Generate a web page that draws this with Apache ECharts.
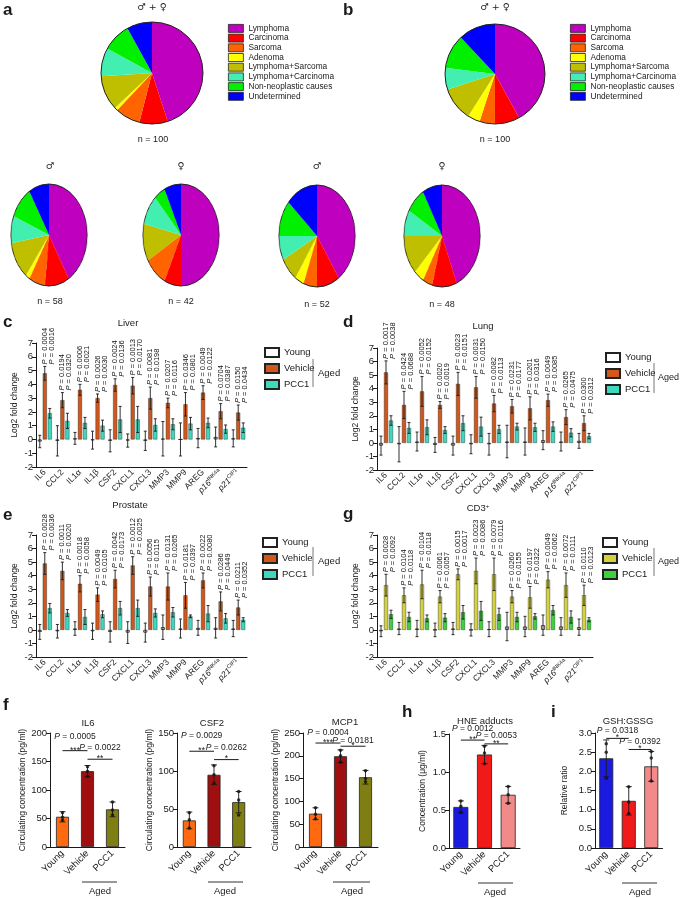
<!DOCTYPE html>
<html>
<head>
<meta charset="utf-8">
<script src="https://cdn.jsdelivr.net/npm/echarts@6.0.0/dist/echarts.min.js"></script>
<style>
html,body{margin:0;padding:0;background:#fff;}
#main{position:absolute;left:0;top:0;width:681px;height:898px;}
.sp{position:absolute;width:104px;height:104px;transform:scaleX(0.75);transform-origin:50% 50%;}
</style>
</head>
<body>
<div id="main"></div>
<div id="pieAM" class="sp" style="left:-3px;top:183px"></div>
<div id="pieAF" class="sp" style="left:129px;top:183px"></div>
<div id="pieBM" class="sp" style="left:265px;top:184px"></div>
<div id="pieBF" class="sp" style="left:390px;top:184px"></div>
<script>
// ---- tumour spectrum (a, b)
var tumourTypes = ['Lymphoma','Carcinoma','Sarcoma','Adenoma','Lymphoma+Sarcoma','Lymphoma+Carcinoma','Non-neoplastic causes','Undetermined'];
var tumourColors = ['#BF00BF','#FF0000','#FF6400','#FFFF00','#BFBF00','#43EFB0','#00F000','#0000FF'];
var countsA = [45,9,8,1,11,9,9,8];
var countsAMale = [24,6,4,1,7,5,6,5];
var countsAFemale = [21,3,4,0,5,4,2,3];
var countsB = [42,8,5,4,11,7,11,12];
var countsBMale = [21,5,3,2,4,4,6,7];
var countsBFemale = [21,5,2,2,6,4,4,4];

// ---- SASP genes (c, d, e, g)
var genes = ['IL6','CCL2','IL1α','IL1β','CSF2','CXCL1','CXCL3','MMP3','MMP9','AREG','p16INK4a','p21CIP1'];

var liverYoungMean = [-0.15,-0.1,0.08,-0.05,-0.1,-0.08,-0.1,0.05,0,0.1,0.18,0.08];
var liverYoungSd   = [0.45,1.1,0.43,0.65,0.8,0.48,0.7,1.25,1.2,0.7,0.72,0.62];
var liverVehMean   = [4.8,2.85,3.6,3.0,3.95,3.9,3.0,2.65,2.55,3.4,2.05,1.95];
var liverVehSd     = [0.5,0.55,0.4,0.3,0.45,0.6,0.8,0.35,0.85,0.5,0.55,0.55];
var liverPccMean   = [1.9,1.35,1.2,1.0,1.45,1.45,1.05,1.1,1.15,1.2,0.75,0.85];
var liverPccSd     = [0.35,0.55,0.4,0.4,0.95,0.95,0.45,0.4,0.45,0.35,0.3,0.35];
var liverP = ['0.0004','0.0016','0.0194','0.0320','0.0006','0.0021','0.0026','0.0030','0.0024','0.0136','0.0013','0.0170',
              '0.0081','0.0198','0.0207','0.0116','0.0346','0.0801','0.0049','0.0122','0.0704','0.0387','0.0150','0.0434'];

var lungYoungMean = [-0.2,-0.1,0.1,-0.15,-0.2,-0.1,-0.1,0.1,0.1,0.2,0.1,0.15];
var lungYoungSd   = [0.7,1.3,0.7,0.55,0.7,0.7,0.8,1.2,1.0,0.7,0.7,0.55];
var lungVehMean   = [5.2,2.8,3.8,2.8,4.35,4.1,2.9,2.7,2.55,3.15,1.9,1.45];
var lungVehSd     = [0.85,1.0,1.1,0.25,0.85,0.8,0.6,0.5,0.85,0.45,0.55,0.55];
var lungPccMean   = [1.65,1.1,1.15,0.95,1.45,1.2,1.0,1.2,1.15,1.2,0.75,0.5];
var lungPccSd     = [0.35,0.4,0.55,0.25,0.55,0.7,0.3,0.25,0.3,0.35,0.3,0.2];
var lungP = ['0.0017','0.0038','0.0424','0.0688','0.0052','0.0152','0.0020','0.0019','0.0023','0.0151','0.0031','0.0150',
             '0.0082','0.0113','0.0231','0.0177','0.0201','0.0316','0.0049','0.0085','0.0265','0.0475','0.0300','0.0312'];

var prostateYoungMean = [-0.15,-0.1,0.1,-0.1,-0.15,-0.2,-0.2,0.2,0.1,0.15,0.15,0.1];
var prostateYoungSd   = [0.55,0.5,0.5,0.6,0.75,0.8,0.7,0.9,0.7,0.55,0.75,0.6];
var prostateVehMean   = [4.9,4.35,3.4,2.6,3.75,4.75,3.2,3.2,2.55,3.65,2.1,1.65];
var prostateVehSd     = [0.8,0.65,0.6,0.5,0.65,0.65,0.7,1.0,0.95,0.55,0.7,0.55];
var prostatePccMean   = [1.6,1.25,0.95,1.15,1.6,1.6,1.25,1.3,1.0,1.2,0.85,0.75];
var prostatePccSd     = [0.35,0.25,0.55,0.25,0.5,0.6,0.3,0.35,0.1,0.6,0.35,0.15];
var prostateP = ['0.0028','0.0036','0.0011','0.0020','0.0018','0.0058','0.0049','0.0105','0.0042','0.0173','0.0012','0.0025',
                 '0.0056','0.0115','0.0131','0.0265','0.0181','0.0397','0.0022','0.0080','0.0286','0.0449','0.0211','0.0352'];

var cd3YoungMean = [-0.1,0.1,0.1,0,0.1,0,0.05,0.25,0.25,0.35,0.25,0.2];
var cd3YoungSd   = [0.4,0.45,0.6,0.5,0.45,0.45,0.55,1.05,0.75,0.75,0.65,0.6];
var cd3VehMean   = [3.3,2.55,3.35,2.45,4.1,4.35,4.1,2.45,2.4,3.7,3.3,2.55];
var cd3VehSd     = [0.8,0.55,1.05,0.45,0.4,0.95,1.2,0.45,0.8,0.6,0.9,0.75];
var cd3PccMean   = [1.15,0.95,0.85,0.9,1.3,1.4,1.15,0.95,1.0,1.45,0.95,0.75];
var cd3PccSd     = [0.3,0.35,0.25,0.3,0.5,0.7,0.45,0.35,0.2,0.35,0.45,0.15];
var cd3P = ['0.0028','0.0092','0.0104','0.0118','0.0104','0.0118','0.0061','0.0057','0.0015','0.0017','0.0023','0.0086',
            '0.0079','0.0116','0.0260','0.0155','0.0197','0.0322','0.0049','0.0062','0.0072','0.0111','0.0110','0.0123'];

// ---- circulating factors (f) and redox (h, i)
var groups = ['Young','Vehicle','PCC1'];
var il6Mean = [53,133,66],  il6Sd = [9,10,13];
var il6Dots = [[60,52,47],[141,133,124],[79,65,56]];
var il6SigLines = [[0,1,169,194],[1,2,154,175]], il6Stars = ['***','**'], il6P = ['0.0005','0.0022'];
var csf2Mean = [35,95,59],  csf2Sd = [11,13,14];
var csf2Dots = [[45,36,25],[107,95,84],[73,62,42]];
var csf2SigLines = [[0,1,126,146],[1,2,115,131]], csf2Stars = ['**','*'], csf2P = ['0.0029','0.0262'];
var mcp1Mean = [73,199,153], mcp1Sd = [13,14,15];
var mcp1Dots = [[86,72,62],[212,200,186],[167,150,143]];
var mcp1SigLines = [[0,1,228,250],[1,2,221,233]], mcp1Stars = ['***','*'], mcp1P = ['0.0004','0.0181'];
var hneMean = [0.54,1.23,0.70], hneSd = [0.08,0.12,0.11];
var hneDots = [[0.62,0.55,0.47],[1.34,1.25,1.11],[0.81,0.70,0.59]];
var hneSigLines = [[0,1,1.42,1.57],[1,2,1.37,1.48]], hneStars = ['**','**'], hneP = ['0.0012','0.0053'];
var gshMean = [2.34,1.23,2.13], gshSd = [0.48,0.37,0.39];
var gshDots = [[2.72,2.5,1.82],[1.6,1.2,0.9],[2.52,2.35,1.75]];
var gshSigLines = [[0,1,2.86,3.07],[1,2,2.57,2.78]], gshStars = ['*','*'], gshP = ['0.0318','0.0392'];

var FONT = '"Liberation Sans",Arial,sans-serif';
var SYM = '"DejaVu Sans",sans-serif';
var INK = '#1a1a1a';
var sasColors = ['#ffffff','#D0581C','#3FD8BC'];
var cd3Colors = ['#ffffff','#D4D23E','#3CD23C'];
var circColors = ['#FF6A10','#A00F0F','#7E7E12'];
var redoxColors = ['#1A1AE0','#F01A1A','#F28A8A'];

function pieSeries(counts, center, radius){
	return [{
		type:'pie', center:center, radius:radius, startAngle:90, clockwise:true, silent:true,
		label:{show:false}, labelLine:{show:false},
		data: tumourTypes.map(function(t,i){ return {name:t, value:counts[i], itemStyle:{color:tumourColors[i], borderWidth:0}}; })
	},{
		type:'pie', center:center, radius:radius, silent:true, label:{show:false}, labelLine:{show:false},
		data:[{name:'outline', value:1, itemStyle:{color:'rgba(0,0,0,0)', borderColor:'#222', borderWidth:1}}]
	}];
}

function geneLabel(v){
	if(v === 'p16INK4a') return '{it|p16}{sup|INK4a}';
	if(v === 'p21CIP1') return '{it|p21}{sup|CIP1}';
	return v;
}
var geneRich = {
	it:{fontStyle:'italic', fontSize:8.5, fontFamily:FONT, color:INK, lineHeight:11},
	sup:{fontSize:5.5, fontFamily:FONT, color:INK, verticalAlign:'top', lineHeight:6}
};

function errorBars(offsetOf, capW){
	return function(params, api){
		var i = api.value(0), m = api.value(1), s = api.value(2);
		var hi = api.coord([i, m + s]), lo = api.coord([i, m - s]);
		var x = hi[0] + offsetOf(api.value(3));
		var ls = {stroke:INK, lineWidth:0.9};
		return {type:'group', children:[
			{type:'line', shape:{x1:x, y1:hi[1], x2:x, y2:lo[1]}, style:ls},
			{type:'line', shape:{x1:x-capW, y1:hi[1], x2:x+capW, y2:hi[1]}, style:ls},
			{type:'line', shape:{x1:x-capW, y1:lo[1], x2:x+capW, y2:lo[1]}, style:ls}
		]};
	};
}

function pLabels(pv, dx1, dx2){
	return function(params, api){
		var i = api.value(0);
		var pt = api.coord([i, api.value(1)]);
		var mk = function(x, s){
			return {type:'text', x:x, y:pt[1] - 2, rotation:Math.PI/2,
				style:{text:'{i|P} = ' + s, fontSize:7.5, fontFamily:FONT, fill:'#111', align:'left', verticalAlign:'middle',
					rich:{i:{fontStyle:'italic', fontSize:7.5, fontFamily:FONT, fill:'#111'}}}};
		};
		return {type:'group', children:[mk(pt[0] + dx1, pv[2*i]), mk(pt[0] + dx2, pv[2*i+1])]};
	};
}

function geneSeries(gi, names, colors, yM, yS, vM, vS, pM, pS, pv){
	var means = [yM, vM, pM], sds = [yS, vS, pS];
	var out = [], k, i;
	for(k = 0; k < 3; k++){
		out.push({type:'bar', name:names[k], xAxisIndex:gi, yAxisIndex:gi, data:means[k], barWidth:4, barGap:'25%', silent:true,
			itemStyle:{color:colors[k], borderColor:'#222', borderWidth:k === 0 ? 0.8 : 0.4}});
	}
	var errData = [];
	for(k = 0; k < 3; k++) for(i = 0; i < genes.length; i++) errData.push([i, means[k][i], sds[k][i], k]);
	out.push({type:'custom', xAxisIndex:gi, yAxisIndex:gi, data:errData, clip:false, z:3, silent:true,
		renderItem:errorBars(function(k){ return (k - 1) * 5; }, 1.5)});
	out.push({type:'custom', xAxisIndex:gi, yAxisIndex:gi, clip:false, z:4, silent:true,
		data:vM.map(function(v, i){ return [i, v + vS[i]]; }), renderItem:pLabels(pv, 0, 7)});
	return out;
}

function sigMarks(stars, pv){
	return function(params, api){
		var k = params.dataIndex;
		var a = api.coord([api.value(0), api.value(2)]);
		var b = api.coord([api.value(1), api.value(2)]);
		var ty = api.coord([api.value(0), api.value(3)])[1];
		var mx = (a[0] + b[0]) / 2;
		return {type:'group', children:[
			{type:'line', shape:{x1:a[0], y1:a[1], x2:b[0], y2:a[1]}, style:{stroke:INK, lineWidth:1}},
			{type:'text', x:mx, y:a[1] + 4, style:{text:stars[k], fontSize:8.5, fontFamily:FONT, fill:INK, align:'center', verticalAlign:'bottom'}},
			{type:'text', x:mx, y:ty, style:{text:'{i|P} = ' + pv[k], fontSize:8.5, fontFamily:FONT, fill:INK, align:'center', verticalAlign:'middle',
				rich:{i:{fontStyle:'italic', fontSize:8.5, fontFamily:FONT, fill:INK}}}}
		]};
	};
}

function assaySeries(gi, mean, sd, dots, sigLines, stars, pv, colors, barW){
	var dotData = [];
	dots.forEach(function(arr, i){ arr.forEach(function(v){ dotData.push([i, v]); }); });
	return [
		{type:'bar', name:'assay' + gi, xAxisIndex:gi, yAxisIndex:gi, barWidth:barW, silent:true,
			itemStyle:{borderColor:'#222', borderWidth:0.8},
			data:mean.map(function(v, i){ return {value:v, itemStyle:{color:colors[i]}}; })},
		{type:'custom', xAxisIndex:gi, yAxisIndex:gi, clip:false, z:3, silent:true,
			data:mean.map(function(v, i){ return [i, v, sd[i], 1]; }), renderItem:errorBars(function(){ return 0; }, 3)},
		{type:'scatter', xAxisIndex:gi, yAxisIndex:gi, data:dotData, symbolSize:3.5, z:4, silent:true, itemStyle:{color:'#111'}},
		{type:'custom', xAxisIndex:gi, yAxisIndex:gi, clip:false, z:4, silent:true, data:sigLines, renderItem:sigMarks(stars, pv)}
	];
}

function geneX(gi){
	return {type:'category', gridIndex:gi, data:genes,
		axisLine:{onZero:false, lineStyle:{color:INK, width:1}},
		axisTick:{alignWithLabel:true, length:4, lineStyle:{color:INK}},
		axisLabel:{interval:0, rotate:45, fontSize:8.5, lineHeight:11, color:INK, margin:4, fontFamily:FONT, formatter:geneLabel, rich:geneRich}};
}
function geneY(gi){
	return {type:'value', gridIndex:gi, min:-2, max:7, interval:1,
		name:'Log2 fold change', nameLocation:'middle', nameGap:17, nameTextStyle:{fontSize:8.5, color:INK, fontFamily:FONT},
		axisLine:{show:true, lineStyle:{color:INK}}, axisTick:{show:true, length:4, lineStyle:{color:INK}},
		splitLine:{show:false}, axisLabel:{fontSize:9.5, color:INK, margin:3, fontFamily:FONT}};
}
function assayX(gi){
	return {type:'category', gridIndex:gi, data:groups,
		axisLine:{onZero:false, lineStyle:{color:INK, width:1}},
		axisTick:{alignWithLabel:true, length:4, lineStyle:{color:INK}},
		axisLabel:{interval:0, rotate:45, fontSize:9.5, color:INK, margin:5, fontFamily:FONT}};
}
function assayY(gi, name, max, interval, gap, digits){
	return {type:'value', gridIndex:gi, min:0, max:max, interval:interval,
		name:name, nameLocation:'middle', nameGap:gap, nameTextStyle:{fontSize:8.5, color:INK, fontFamily:FONT},
		axisLine:{show:true, lineStyle:{color:INK}}, axisTick:{show:true, length:4, lineStyle:{color:INK}},
		splitLine:{show:false},
		axisLabel:{fontSize:9.5, color:INK, margin:3, fontFamily:FONT, formatter:function(v){ return v.toFixed(digits); }}};
}

function txt(x, y, s, size, extra){
	var st = {text:s, fontSize:size, fontFamily:FONT, fill:INK, align:'center', verticalAlign:'middle', textAlign:'center', textVerticalAlign:'middle'};
	for(var k in (extra || {})) st[k] = extra[k];
	return {type:'text', x:x, y:y, silent:true, style:st};
}
function vline(x, y1, y2, color){
	return {type:'line', silent:true, shape:{x1:x, y1:y1, x2:x, y2:y2}, style:{stroke:color || '#777', lineWidth:1}};
}
function hline(x1, x2, y){
	return {type:'line', silent:true, shape:{x1:x1, y1:y, x2:x2, y2:y}, style:{stroke:'#333', lineWidth:1}};
}
var bold = {fontWeight:'bold', align:'left', textAlign:'left'};
var leftAl = {align:'left', textAlign:'left'};
var sym = {fontFamily:SYM};

function barLegend(left, top, names){
	return {data:names, left:left, top:top, orient:'vertical', icon:'rect', itemWidth:14, itemHeight:9, itemGap:5, selectedMode:false,
		textStyle:{fontSize:9.5, lineHeight:11, color:INK, fontFamily:FONT}};
}
function pieLegend(left, top){
	return {data:tumourTypes, left:left, top:top, orient:'vertical', icon:'rect', itemWidth:15, itemHeight:8, itemGap:0.9, selectedMode:false,
		itemStyle:{borderColor:'#222', borderWidth:0.8},
		textStyle:{fontSize:8.3, lineHeight:8.6, color:INK, fontFamily:FONT}};
}

var gridBox = [
	{left:36, top:343, width:211, height:124},
	{left:377, top:348, width:216, height:122},
	{left:36, top:535, width:211, height:122},
	{left:377, top:535, width:216, height:122},
	{left:50, top:733, width:75, height:114},
	{left:177, top:733, width:74, height:114},
	{left:303, top:733, width:75, height:114},
	{left:449, top:734, width:71, height:114},
	{left:595, top:733, width:67.5, height:115}
];

var series = []
	.concat(pieSeries(countsA, [152, 73], 51))
	.concat(pieSeries(countsB, [495, 74], 50))
	.concat(geneSeries(0, ['Young','Vehicle','PCC1'], sasColors, liverYoungMean, liverYoungSd, liverVehMean, liverVehSd, liverPccMean, liverPccSd, liverP))
	.concat(geneSeries(1, ['Young','Vehicle','PCC1'], sasColors, lungYoungMean, lungYoungSd, lungVehMean, lungVehSd, lungPccMean, lungPccSd, lungP))
	.concat(geneSeries(2, ['Young','Vehicle','PCC1'], sasColors, prostateYoungMean, prostateYoungSd, prostateVehMean, prostateVehSd, prostatePccMean, prostatePccSd, prostateP))
	.concat(geneSeries(3, ['Young ','Vehicle ','PCC1 '], cd3Colors, cd3YoungMean, cd3YoungSd, cd3VehMean, cd3VehSd, cd3PccMean, cd3PccSd, cd3P))
	.concat(assaySeries(4, il6Mean, il6Sd, il6Dots, il6SigLines, il6Stars, il6P, circColors, 13))
	.concat(assaySeries(5, csf2Mean, csf2Sd, csf2Dots, csf2SigLines, csf2Stars, csf2P, circColors, 13))
	.concat(assaySeries(6, mcp1Mean, mcp1Sd, mcp1Dots, mcp1SigLines, mcp1Stars, mcp1P, circColors, 13))
	.concat(assaySeries(7, hneMean, hneSd, hneDots, hneSigLines, hneStars, hneP, redoxColors, 15))
	.concat(assaySeries(8, gshMean, gshSd, gshDots, gshSigLines, gshStars, gshP, redoxColors, 14));

var graphics = [
	txt(3, 10, 'a', 17, bold), txt(343, 10, 'b', 17, bold),
	txt(152, 8, '♂ + ♀', 9.5, sym), txt(495, 8, '♂ + ♀', 9.5, sym),
	txt(153, 140, 'n = 100', 9), txt(495, 140, 'n = 100', 9),
	txt(50, 167, '♂', 9.5, sym), txt(181, 167, '♀', 9.5, sym), txt(317, 167, '♂', 9.5, sym), txt(442, 167, '♀', 9.5, sym),
	txt(50, 302, 'n = 58', 9), txt(181, 302, 'n = 42', 9), txt(317, 305, 'n = 52', 9), txt(442, 305, 'n = 48', 9),
	txt(3, 322, 'c', 17, bold), txt(343, 322, 'd', 17, bold), txt(3, 515, 'e', 17, bold), txt(343, 514, 'g', 17, bold),
	txt(128, 323, 'Liver', 9.5), txt(483, 326, 'Lung', 9.5), txt(130, 505, 'Prostate', 9.5),
	txt(478, 508, '{b|CD3}{s|+}', 9.5, {rich:{b:{fontSize:9.5, fontFamily:FONT, fill:INK}, s:{fontSize:6, fontFamily:FONT, fill:INK, verticalAlign:'top', lineHeight:6}}}),
	vline(313, 359, 387), txt(318, 373, 'Aged', 9.5, leftAl),
	vline(654, 363, 393), txt(658, 378, 'Aged', 9, leftAl),
	vline(313, 547, 576), txt(318, 561, 'Aged', 9.5, leftAl),
	vline(654, 548, 576), txt(658, 562, 'Aged', 9, leftAl),
	txt(3, 705, 'f', 17, bold), txt(402, 712, 'h', 17, bold), txt(551, 712, 'i', 17, bold),
	txt(88, 723, 'IL6', 9.5), txt(212, 723, 'CSF2', 9.5), txt(345, 722, 'MCP1', 9.5),
	txt(485, 721, 'HNE adducts', 9.5), txt(628, 721, 'GSH:GSSG', 9.5),
	hline(82, 117, 882), txt(100, 891, 'Aged', 9.5),
	hline(208, 243, 882), txt(225, 891, 'Aged', 9.5),
	hline(333, 370, 882), txt(352, 891, 'Aged', 9.5),
	hline(478, 513, 883), txt(495, 892, 'Aged', 9.5),
	hline(622, 657, 883), txt(640, 892, 'Aged', 9.5)
];

var option = {
	animation:false,
	textStyle:{fontFamily:FONT},
	legend:[
		pieLegend(223, 19), pieLegend(565, 19),
		barLegend(259, 342, ['Young','Vehicle','PCC1']),
		barLegend(600, 347, ['Young','Vehicle','PCC1']),
		barLegend(257, 532, ['Young','Vehicle','PCC1']),
		barLegend(597, 532, ['Young ','Vehicle ','PCC1 '])
	],
	grid:gridBox.map(function(g){ g.outerBoundsMode = 'none'; g.containLabel = false; return g; }),
	xAxis:[geneX(0), geneX(1), geneX(2), geneX(3), assayX(4), assayX(5), assayX(6), assayX(7), assayX(8)],
	yAxis:[geneY(0), geneY(1), geneY(2), geneY(3),
		assayY(4, 'Circulating concentration (pg/ml)', 200, 50, 23, 0),
		assayY(5, 'Circulating concentration (pg/ml)', 150, 50, 23, 0),
		assayY(6, 'Circulating concentration (pg/ml)', 250, 50, 23, 0),
		assayY(7, 'Concentration (μg/ml)', 1.5, 0.5, 22, 1),
		assayY(8, 'Relative ratio', 3, 0.5, 26, 1)],
	series:series,
	graphic:graphics
};

var chart = echarts.init(document.getElementById('main'), null, {renderer:'canvas'});
chart.setOption(option);

function smallPie(id, counts){
	var c = echarts.init(document.getElementById(id));
	c.setOption({animation:false, series:pieSeries(counts, ['50%','50%'], 51)});
}
smallPie('pieAM', countsAMale);
smallPie('pieAF', countsAFemale);
smallPie('pieBM', countsBMale);
smallPie('pieBF', countsBFemale);
</script>
</body>
</html>
